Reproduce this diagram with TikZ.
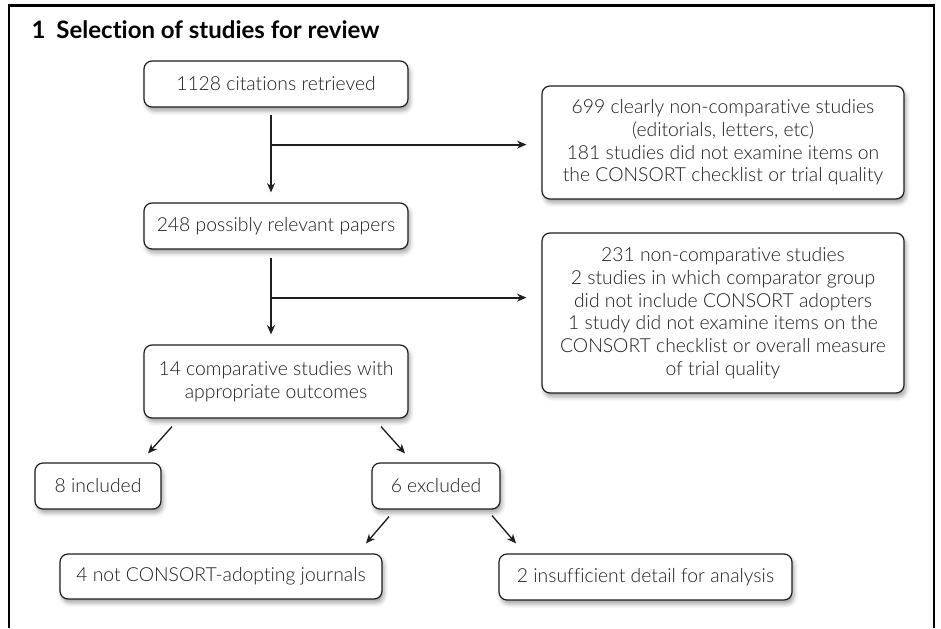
\documentclass[tikz,border=0pt]{standalone}
\usepackage{fontspec}
\setmainfont{Lato}[Ligatures={NoCommon}]
\newfontfamily\lightfont{Lato Light}[Ligatures={NoCommon}]
\usetikzlibrary{calc,arrows.meta,shadows.blur}
\definecolor{ink}{HTML}{1E1E1E}
\tikzset{
  box/.style={draw=ink, line width=0.9pt, rounded corners=6pt, fill=white,
    blur shadow={shadow xshift=1.5pt, shadow yshift=-3pt, shadow opacity=35, shadow blur radius=3pt},
    font=\lightfont\fontsize{14.5}{17}\selectfont, text=ink, align=center, inner sep=0pt},
  arr/.style={draw=ink, line width=1.4pt, -{Stealth[length=7pt,width=6pt]}},
  darr/.style={draw=ink, line width=1pt, -{Stealth[length=7pt,width=6pt]}},
  frame/.style={draw=black, line width=1.9pt}
}
\begin{document}
\begin{tikzpicture}[x=0.75pt,y=-0.75pt]
\useasboundingbox (0,0) rectangle (941,628);
\draw[frame] (9,628) -- (9,5.5) -- (934,5.5) -- (934,628);
\node[anchor=base west, font=\bfseries\fontsize{18}{21}\selectfont, text=black] (title) at (27,38.5) {1\hspace{0.45em}Selection of studies for review};

\node[box, minimum width=198pt, minimum height=34.5pt] (b1) at (276,84) {1128 citations retrieved};
\node[box, minimum width=198pt, minimum height=34.5pt] (b2) at (276,226) {248 possibly relevant papers};
\node[box, minimum width=198pt, minimum height=54.75pt] (b3) at (276,381.5) {14 comparative studies with\\appropriate outcomes};
\node[box, minimum width=271.5pt, minimum height=84.75pt] (r1) at (723,142.5) {699 clearly non-comparative studies\\(editorials, letters, etc)\\181 studies did not examine items on\\the CONSORT checklist or trial quality};
\node[box, minimum width=271.5pt, minimum height=120pt] (r2) at (723,313) {231 non-comparative studies\\2 studies in which comparator group\\did not include CONSORT adopters\\1 study did not examine items on the\\CONSORT checklist or overall measure\\of trial quality};
\node[box, minimum width=94.5pt, minimum height=34.5pt] (inc) at (98,486) {8 included};
\node[box, minimum width=96pt, minimum height=34.5pt] (exc) at (436,486) {6 excluded};
\node[box, minimum width=241.5pt, minimum height=33.75pt] (notc) at (221,576.5) {4 not CONSORT-adopting journals};
\node[box, minimum width=219.75pt, minimum height=34.5pt] (insuf) at (645.5,577) {2 insufficient detail for analysis};

% main flow
\coordinate (j1) at ($(b1.south)+(-5,37)$);
\coordinate (j2) at ($(b2.south)+(-5,48)$);
\draw[arr] ($(b1.south)+(-5,7)$) -- ($(b2.north)+(-5,-10)$);
\draw[arr, shorten >=11.25pt] (j1) -- (j1 -| r1.west);
\draw[arr] ($(b2.south)+(-5,8)$) -- ($(b3.north)+(-5,-10)$);
\draw[arr, shorten >=11.25pt] (j2) -- (j2 -| r2.west);

% diagonal branches
\draw[darr] ($(b3.south)+(-104,8)$) -- ($(inc.north)+(50,-9)$);
\draw[darr] ($(b3.south)+(105,8)$) -- ($(exc.north)+(-31,-9)$);
\draw[darr] ($(exc.south)+(-47,7)$) -- ($(notc.north)+(145,-10)$);
\draw[darr] ($(exc.south)+(56,6)$) -- ($(insuf.north)+(-129.5,-10)$);
\end{tikzpicture}
\end{document}
